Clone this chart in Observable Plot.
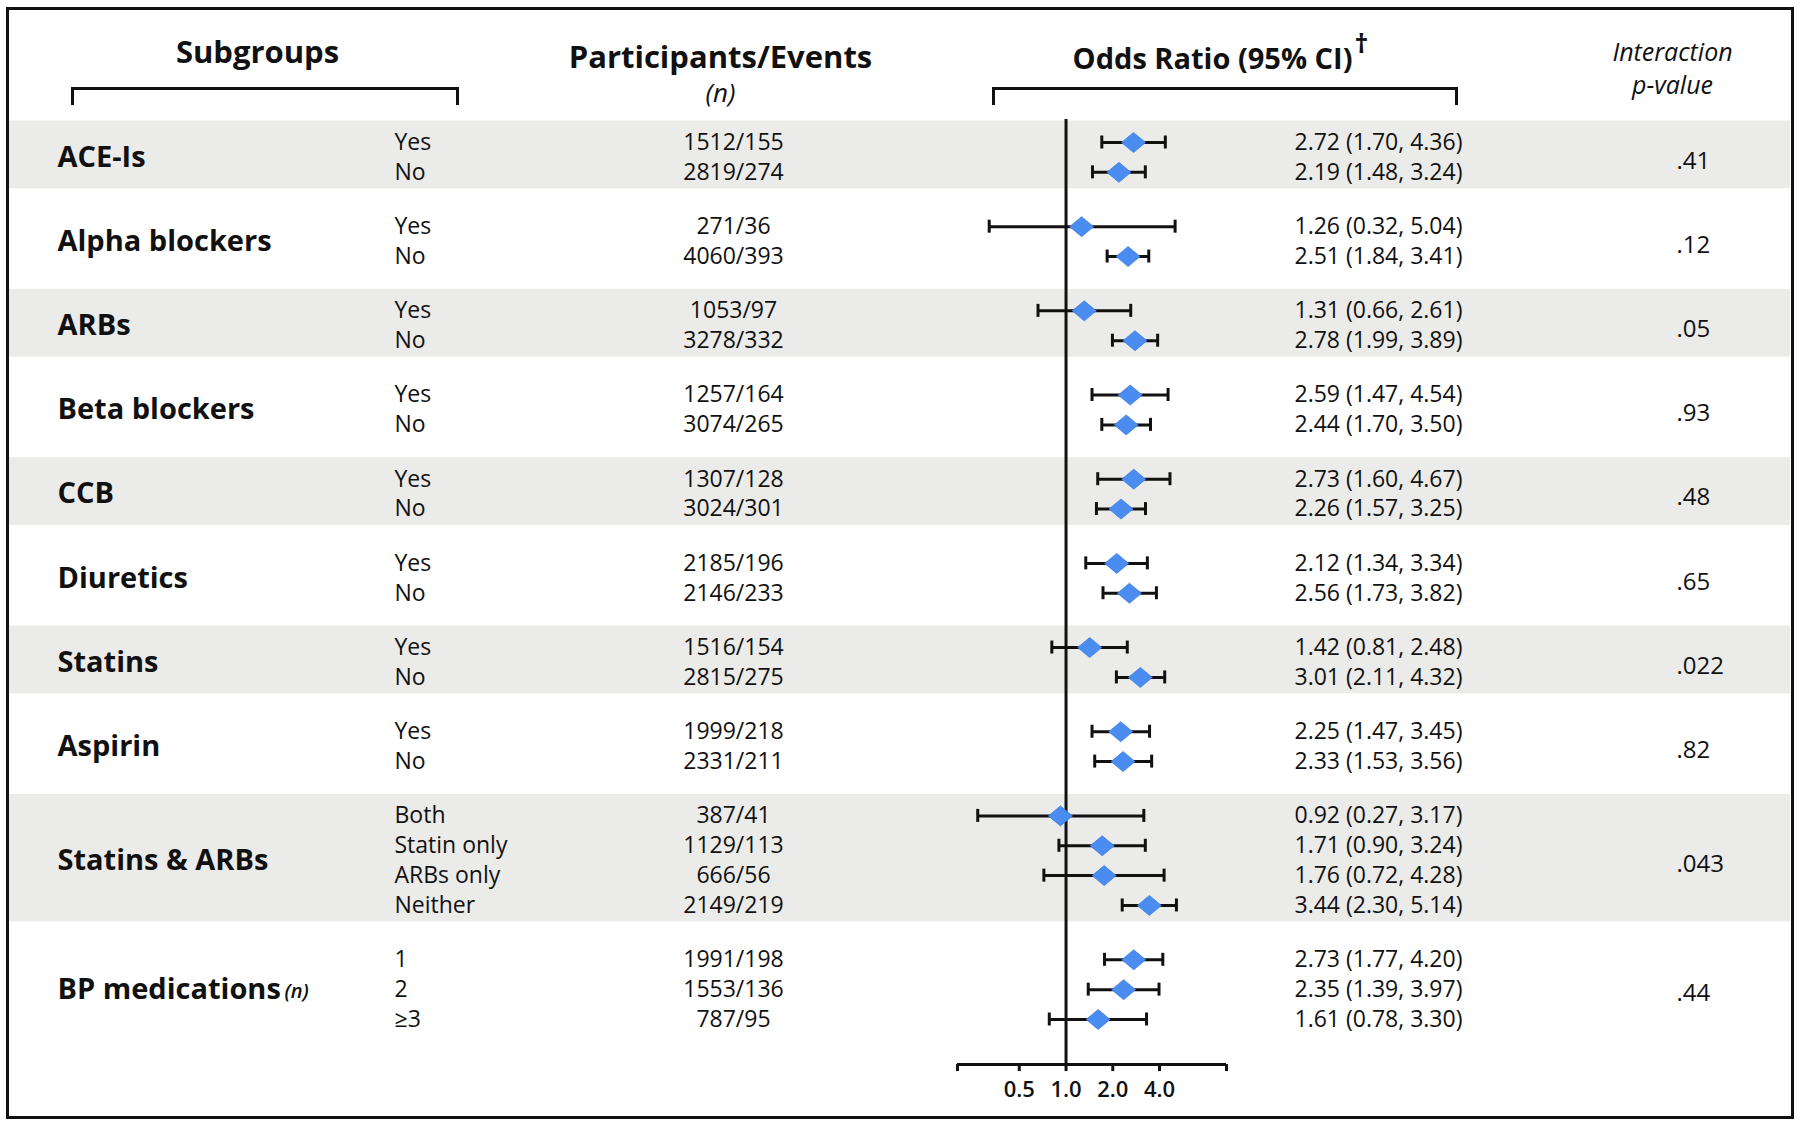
<!DOCTYPE html>
<html>
<head>
<meta charset="utf-8">
<script src="https://cdn.jsdelivr.net/npm/d3@7"></script>
<script src="https://cdn.jsdelivr.net/npm/@observablehq/plot@0.6"></script>
<style>
  html, body { margin: 0; padding: 0; background: #ffffff; }
  #chart svg { display: block; }
</style>
</head>
<body>
<div id="chart"></div>
<script>
// ---------------- DATA ----------------
const groups = ["ACE-Is", "Alpha blockers", "ARBs", "Beta blockers", "CCB", "Diuretics", "Statins", "Aspirin", "Statins & ARBs", "BP medications"];
const subLabels = [
  ["Yes", "No"], ["Yes", "No"], ["Yes", "No"], ["Yes", "No"], ["Yes", "No"],
  ["Yes", "No"], ["Yes", "No"], ["Yes", "No"],
  ["Both", "Statin only", "ARBs only", "Neither"],
  ["1", "2", "≥3"]
];
const participants = [
  ["1512/155", "2819/274"], ["271/36", "4060/393"], ["1053/97", "3278/332"],
  ["1257/164", "3074/265"], ["1307/128", "3024/301"], ["2185/196", "2146/233"],
  ["1516/154", "2815/275"], ["1999/218", "2331/211"],
  ["387/41", "1129/113", "666/56", "2149/219"],
  ["1991/198", "1553/136", "787/95"]
];
const oddsRatio = [
  [2.72, 2.19], [1.26, 2.51], [1.31, 2.78], [2.59, 2.44], [2.73, 2.26],
  [2.12, 2.56], [1.42, 3.01], [2.25, 2.33], [0.92, 1.71, 1.76, 3.44], [2.73, 2.35, 1.61]
];
const ciLow = [
  [1.70, 1.48], [0.32, 1.84], [0.66, 1.99], [1.47, 1.70], [1.60, 1.57],
  [1.34, 1.73], [0.81, 2.11], [1.47, 1.53], [0.27, 0.90, 0.72, 2.30], [1.77, 1.39, 0.78]
];
const ciHigh = [
  [4.36, 3.24], [5.04, 3.41], [2.61, 3.89], [4.54, 3.50], [4.67, 3.25],
  [3.34, 3.82], [2.48, 4.32], [3.45, 3.56], [3.17, 3.24, 4.28, 5.14], [4.20, 3.97, 3.30]
];
const pValues = [".41", ".12", ".05", ".93", ".48", ".65", ".022", ".82", ".043", ".44"];
const xTicks = [0.5, 1, 2, 4];
const xDomain = [0.2, 10.8];

// ---------------- LAYOUT ----------------
const W = 1800, H = 1128;
const FONT = "'Open Sans', 'Noto Sans', sans-serif";
const GAP = 1.82;          // spacing between groups, in row units
const PX = 29.85;          // pixels per row unit
const FIRST_Y = 142;       // pixel y of first row

const rows = [];
const groupInfo = [];
let pos = 0;
groups.forEach((g, gi) => {
  const start = pos;
  subLabels[gi].forEach((s, si) => {
    rows.push({
      group: g, gi, sub: s,
      participants: participants[gi][si],
      or: oddsRatio[gi][si], lo: ciLow[gi][si], hi: ciHigh[gi][si],
      pos
    });
    if (si < subLabels[gi].length - 1) pos += 1;
  });
  groupInfo.push({ group: g, gi, first: start, last: pos, center: (start + pos) / 2, p: pValues[gi] });
  pos += GAP;
});
const lastPos = rows[rows.length - 1].pos;
const bandTop = 0.72, bandBottom = 0.55;
const bands = groupInfo.filter(d => d.gi % 2 === 0);
const refTop = -0.77;
const axisPos = lastPos + 1.51;
const tickLen = 7 / PX;
const capHalf = 6.5 / PX;

const fmt = v => v.toFixed(2);

// wide diamond symbol (24 x 20 at r = 10)
const wideDiamond = {
  draw(context, size) {
    const r = Math.sqrt(size / Math.PI);
    const w = r * 1.2, h = r;
    context.moveTo(0, -h);
    context.lineTo(w, 0);
    context.lineTo(0, h);
    context.lineTo(-w, 0);
    context.closePath();
  }
};

const ink = "#111111";

const chart = Plot.plot({
  width: W,
  height: H,
  margin: 0,
  style: { fontFamily: FONT, color: ink, background: "#ffffff" },
  x: { type: "log", domain: xDomain, range: [957, 1226], axis: null },
  y: { domain: [0, lastPos], range: [FIRST_Y, FIRST_Y + lastPos * PX], axis: null },
  marks: [
    // shaded group bands
    Plot.rect(bands, {
      y1: d => d.first - bandTop, y2: d => d.last + bandBottom,
      fill: "#ebebe9", insetLeft: 9, insetRight: 10
    }),
    // outer border
    Plot.frame({ stroke: ink, strokeWidth: 3, insetLeft: 7, insetTop: 8, insetRight: W - 1792, insetBottom: H - 1117 }),
    // header brackets
    Plot.frame({ anchor: "top", stroke: ink, strokeWidth: 3, insetLeft: 72, insetRight: W - 457, insetTop: 88, strokeLinecap: "square" }),
    Plot.frame({ anchor: "left", stroke: ink, strokeWidth: 3, insetLeft: 72, insetTop: 88, insetBottom: H - 103 }),
    Plot.frame({ anchor: "right", stroke: ink, strokeWidth: 3, insetRight: W - 457, insetTop: 88, insetBottom: H - 103 }),
    Plot.frame({ anchor: "top", stroke: ink, strokeWidth: 3, insetLeft: 993, insetRight: W - 1456, insetTop: 88, strokeLinecap: "square" }),
    Plot.frame({ anchor: "left", stroke: ink, strokeWidth: 3, insetLeft: 993, insetTop: 88, insetBottom: H - 103 }),
    Plot.frame({ anchor: "right", stroke: ink, strokeWidth: 3, insetRight: W - 1456, insetTop: 88, insetBottom: H - 103 }),

    // header texts
    Plot.text(["Subgroups"], { frameAnchor: "top-left", dx: 257, dy: 62, lineAnchor: "bottom", textAnchor: "middle", fontSize: 31, fontWeight: 700, fill: ink }),
    Plot.text(["Participants/Events"], { frameAnchor: "top-left", dx: 720, dy: 67, lineAnchor: "bottom", textAnchor: "middle", fontSize: 31, fontWeight: 700, fill: ink }),
    Plot.text(["(n)"], { frameAnchor: "top-left", dx: 720, dy: 101, lineAnchor: "bottom", textAnchor: "middle", fontSize: 26, fontStyle: "italic", fill: ink }),
    Plot.text(["Odds Ratio (95% CI)"], { frameAnchor: "top-left", dx: 1352, dy: 68, lineAnchor: "bottom", textAnchor: "end", fontSize: 29, fontWeight: 700, fill: ink }),
    Plot.text(["†"], { frameAnchor: "top-left", dx: 1354, dy: 52, lineAnchor: "bottom", textAnchor: "start", fontSize: 27, fontWeight: 700, fill: ink }),
    Plot.text(["Interaction"], { frameAnchor: "top-left", dx: 1672, dy: 60, lineAnchor: "bottom", textAnchor: "middle", fontSize: 25, fontStyle: "italic", fill: ink }),
    Plot.text(["p-value"], { frameAnchor: "top-left", dx: 1672, dy: 93, lineAnchor: "bottom", textAnchor: "middle", fontSize: 25, fontStyle: "italic", fill: ink }),

    // reference line at OR = 1
    Plot.ruleX([1], { y1: refTop, y2: axisPos, stroke: ink, strokeWidth: 3 }),

    // x axis
    Plot.ruleY([axisPos], { x1: () => xDomain[0], x2: () => xDomain[1], stroke: ink, strokeWidth: 3 }),
    Plot.ruleX([xDomain[0], ...xTicks, xDomain[1]], { x: d => d, y1: axisPos, y2: axisPos + tickLen, stroke: ink, strokeWidth: 3 }),
    Plot.text(xTicks, { x: d => d, y: axisPos, dy: 25, text: d => d.toFixed(1), fontSize: 22, fontWeight: 600, fill: ink }),

    // confidence intervals
    Plot.ruleY(rows, { y: "pos", x1: "lo", x2: "hi", stroke: ink, strokeWidth: 3 }),
    Plot.ruleX(rows, { x: "lo", y1: d => d.pos - capHalf, y2: d => d.pos + capHalf, stroke: ink, strokeWidth: 3 }),
    Plot.ruleX(rows, { x: "hi", y1: d => d.pos - capHalf, y2: d => d.pos + capHalf, stroke: ink, strokeWidth: 3 }),
    // point estimates
    Plot.dot(rows, { x: "or", y: "pos", symbol: wideDiamond, r: 10, fill: "#4a8cf0", stroke: "#3f7fe6", strokeWidth: 0.8 }),

    // table columns
    Plot.text(groupInfo, { y: "center", text: "group", frameAnchor: "left", dx: 57, textAnchor: "start", fontSize: 29, fontWeight: 700, fill: ink }),
    Plot.text(groupInfo.filter(d => d.group === "BP medications"), { y: "center", text: () => "(n)", frameAnchor: "left", dx: 284, dy: 2, textAnchor: "start", fontSize: 20, fontWeight: 600, fontStyle: "italic", fill: ink }),
    Plot.text(rows, { y: "pos", text: "sub", frameAnchor: "left", dx: 394, textAnchor: "start", fontSize: 23, fill: ink }),
    Plot.text(rows, { y: "pos", text: "participants", frameAnchor: "left", dx: 733, textAnchor: "middle", fontSize: 23, fill: ink }),
    Plot.text(rows, { y: "pos", text: d => `${fmt(d.or)} (${fmt(d.lo)}, ${fmt(d.hi)})`, frameAnchor: "left", dx: 1294, textAnchor: "start", fontSize: 23, fill: ink }),
    Plot.text(groupInfo, { y: d => d.center + 0.12, text: "p", frameAnchor: "left", dx: 1676, textAnchor: "start", fontSize: 24, fill: ink })
  ]
});

document.getElementById("chart").appendChild(chart);
</script>
</body>
</html>
